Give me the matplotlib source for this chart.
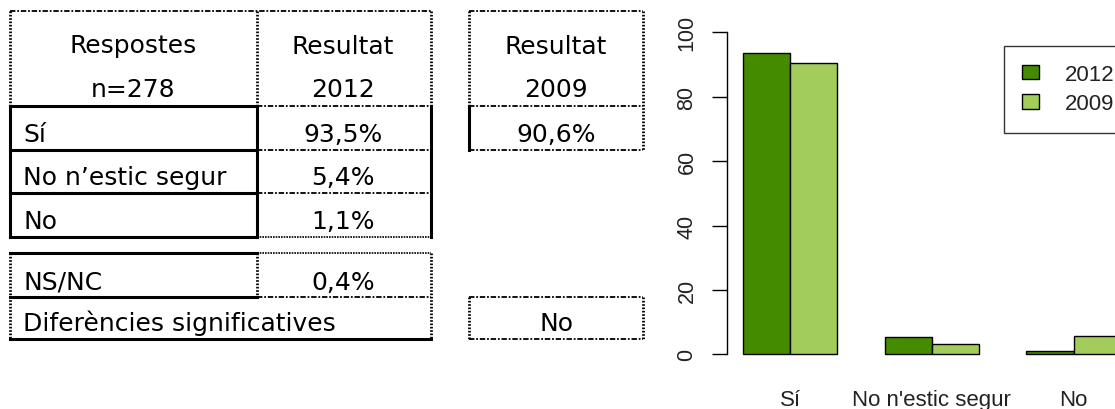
import numpy as np
import matplotlib.pyplot as plt
from matplotlib.lines import Line2D
from matplotlib.patches import Patch

# chart data
categories = ["Sí", "No n'estic segur", "No"]
vals_2012 = [93.5, 5.4, 1.1]
vals_2009 = [90.6, 3.3, 5.6]
series_names = ["2012", "2009"]
series_colors = ["#458B00", "#A2CD5A"]

# table texts
row_labels = ["Sí", "No n’estic segur", "No"]
header_left = ["Respostes", "n=278"]
header_2012 = ["Resultat", "2012"]
header_2009 = ["Resultat", "2009"]
nsnc_label = "NS/NC"
nsnc_value = 0.4
diff_label = "Diferències significatives"
diff_value = "No"

W, H = 1115, 410


def pct(v):
    return format(v, '.1f').replace('.', ',') + '%'


def fx(x):
    return x / W


def fy(y):
    return 1 - y / H


THICK = dict(color='black', linewidth=2.2, linestyle='-', solid_capstyle='projecting')
DOTV = dict(color='black', linewidth=2.0, linestyle=(0, (0.6, 0.6)))
DASH = dict(color='black', linewidth=1.3, linestyle=(0, (3, 1, 1, 1)))
DOT = dict(color='black', linewidth=1.2, linestyle=(0, (1, 0.6)))


def hline(fig, x0, x1, y, style):
    fig.add_artist(Line2D([fx(x0), fx(x1)], [fy(y), fy(y)], **style))


def vline(fig, x, y0, y1, style):
    fig.add_artist(Line2D([fx(x), fx(x)], [fy(y0), fy(y1)], **style))


def label(fig, x, y, s, ha='center'):
    fig.text(fx(x), fy(y), s, ha=ha, va='baseline', fontsize=18,
             family='DejaVu Sans', color='black')


def main():

    fig = plt.figure(figsize=(11.15, 4.10), dpi=100)

    # ---------- table ----------
    xa, xb, xc = 10, 257, 431
    xd, xe = 469, 643
    ytop, yh, rows = 12, 107, [107, 150.7, 194, 238]

    # header of main table
    hline(fig, xa, xc, ytop, DASH)
    vline(fig, xa, ytop, yh, DOTV)
    vline(fig, xb, ytop, yh, DOTV)
    vline(fig, xc, ytop, yh, DOTV)
    # thick box around answers
    for y in rows:
        hline(fig, xa, xb, y, THICK)
    vline(fig, xa, rows[0], rows[-1], THICK)
    vline(fig, xb, rows[0], rows[-1], THICK)
    vline(fig, xc, rows[0], rows[-1], THICK)
    for y in rows[:-1]:
        hline(fig, xb, xc, y, DASH)
    hline(fig, xb, xc, rows[-1], DOT)

    # 2009 table
    hline(fig, xd, xe, ytop, DASH)
    vline(fig, xd, ytop, yh, DOTV)
    vline(fig, xe, ytop, rows[1], DOTV)
    vline(fig, xd, rows[0], rows[1], THICK)
    hline(fig, xd, xe, rows[0], DASH)
    hline(fig, xd, xe, rows[1], DASH)

    # NS/NC and differences
    yb = [254, 297.5, 340]
    hline(fig, xa, xb, yb[0], THICK)
    hline(fig, xb, xc, yb[0], DOT)
    hline(fig, xa, xb, yb[1], THICK)
    hline(fig, xb, xc, yb[1], DASH)
    hline(fig, xa, xc, yb[2], THICK)
    vline(fig, xa, yb[0], yb[2], DOTV)
    vline(fig, xb, yb[0], yb[1], DOTV)
    vline(fig, xc, yb[0], yb[2], DOTV)

    hline(fig, xd, xe, yb[1], DASH)
    hline(fig, xd, xe, yb[2], DASH)
    vline(fig, xd, yb[1], yb[2], DOTV)
    vline(fig, xe, yb[1], yb[2], DOTV)

    # table texts
    c1, c2, c3 = (xa + xb) / 2, (xb + xc) / 2 - 1, (xd + xe) / 2
    for i, base in enumerate([53.5, 97]):
        label(fig, c1, base, header_left[i])
        label(fig, c2, base, header_2012[i])
        label(fig, c3, base, header_2009[i])
    bases = [142, 185.5, 229]
    for i in range(len(row_labels)):
        label(fig, 23, bases[i], row_labels[i], ha='left')
        label(fig, c2, bases[i], pct(vals_2012[i]))
    label(fig, c3, bases[0], pct(vals_2009[0]))
    label(fig, 23, 290, nsnc_label, ha='left')
    label(fig, c2, 290, pct(nsnc_value))
    label(fig, 23, 331, diff_label, ha='left')
    label(fig, c3, 331, diff_value)

    # ---------- bar chart ----------
    ax = fig.add_axes([726.7 / W, 0.102, 1 - 726.7 / W, 0.848])

    x = np.arange(len(categories)) * 3 + 1
    ax.bar(x, vals_2012, width=1, align='edge', color=series_colors[0],
           edgecolor='black', linewidth=1, label=series_names[0])
    ax.bar(x + 1, vals_2009, width=1, align='edge', color=series_colors[1],
           edgecolor='black', linewidth=1, label=series_names[1])

    ax.set_xlim(0.662, 1 + (W - 742.7) / 47.3)
    ax.set_ylim(-4, 104)

    for s in ['top', 'right', 'bottom']:
        ax.spines[s].set_visible(False)
    ax.spines['left'].set_bounds(0, 100)
    ax.spines['left'].set_linewidth(1)

    ax.set_yticks(np.arange(0, 101, 20))
    ax.tick_params(axis='y', length=11, width=1, pad=10, labelsize=15.5,
                   labelcolor='#222222')
    for t in ax.get_yticklabels():
        t.set_rotation(90)
        t.set_va('center')
        t.set_family('Liberation Sans')

    ax.set_xticks(x + 1)
    ax.set_xticklabels(categories, family='Liberation Sans', fontsize=16,
                       color='#222222')
    ax.tick_params(axis='x', length=0, pad=16)

    handles = [Patch(facecolor=c, edgecolor='black', linewidth=1) for c in series_colors]
    leg = ax.legend(handles, series_names, loc='upper left',
                    bbox_to_anchor=(fx(1004), fy(46.7)), bbox_transform=fig.transFigure,
                    fancybox=False, framealpha=1, edgecolor='#333333',
                    prop={'family': 'Liberation Sans', 'size': 16},
                    handlelength=0.77, handleheight=0.63, handletextpad=1.15,
                    borderpad=0.82, labelspacing=0.38, borderaxespad=0)
    leg.get_frame().set_linewidth(1)
    for t in leg.get_texts():
        t.set_color('#222222')

    fig.savefig('out.png', dpi=100)

    return


if __name__ == "__main__":
    main()
